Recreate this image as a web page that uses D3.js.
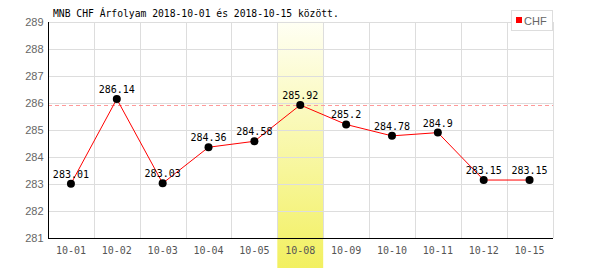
<!DOCTYPE html>
<html><head><meta charset="utf-8">
<script src="https://cdn.jsdelivr.net/npm/d3@7"></script>
<style>body{margin:0;background:#fff}svg{display:block}</style>
</head><body>
<script>
const categories = ["10-01","10-02","10-03","10-04","10-05","10-08","10-09","10-10","10-11","10-12","10-15"];
const values = [283.01,286.14,283.03,284.36,284.58,285.92,285.2,284.78,284.9,283.15,283.15];
const valueLabels = ["283.01","286.14","283.03","284.36","284.58","285.92","285.2","284.78","284.9","283.15","283.15"];
const yTicks = [281,282,283,284,285,286,287,288,289];
const highlightCategory = "10-08";
const referenceValue = 285.92;
const seriesName = "CHF";
const title = "MNB CHF Árfolyam 2018-10-01 és 2018-10-15 között.";

const W = 600, H = 270;
const m = {left: 48, right: 47.5, top: 21.5, bottom: 31.7};
const svg = d3.select("body").append("svg").attr("width", W).attr("height", H);
const x = d3.scaleBand().domain(categories).range([m.left, W - m.right]);
const y = d3.scaleLinear().domain([281, 289]).range([H - m.bottom, m.top]);

const defs = svg.append("defs");
const grad = defs.append("linearGradient").attr("id","hl").attr("x1",0).attr("y1",0).attr("x2",0).attr("y2",1);
grad.append("stop").attr("offset","0%").attr("stop-color","#fffff4");
grad.append("stop").attr("offset","100%").attr("stop-color","#f2f060");

// highlight band
svg.append("rect")
  .attr("x", x(highlightCategory)).attr("width", x.bandwidth())
  .attr("y", y(289)).attr("height", H - 2 - y(289))
  .attr("fill", "url(#hl)");

// grid
const g = svg.append("g").attr("shape-rendering","crispEdges");
g.selectAll(".hg").data(yTicks).join("line")
  .attr("x1", m.left).attr("x2", W - m.right)
  .attr("y1", d => Math.round(y(d)) + 0.5).attr("y2", d => Math.round(y(d)) + 0.5)
  .attr("stroke", "#dddddd");
const vlines = categories.map(c => x(c) + x.bandwidth()).concat([x(categories[0])]);
g.selectAll(".vg").data(vlines).join("line")
  .attr("x1", d => Math.round(d) + 0.5).attr("x2", d => Math.round(d) + 0.5)
  .attr("y1", y(289)).attr("y2", y(281))
  .attr("stroke", "#dddddd");

// reference dashed line
svg.append("line")
  .attr("x1", m.left).attr("x2", W - m.right)
  .attr("y1", Math.round(y(referenceValue)) + 0.5).attr("y2", Math.round(y(referenceValue)) + 0.5)
  .attr("stroke", "#ff9999").attr("stroke-dasharray", "4,3").attr("shape-rendering","crispEdges");

// axes
const yAxis = svg.append("g").attr("transform", `translate(${m.left + 0.5},0)`)
  .call(d3.axisLeft(y).tickValues(yTicks).tickSize(0).tickPadding(5).tickFormat(d3.format("d")));
yAxis.select(".domain").remove();
yAxis.selectAll("text").attr("fill","#666").style("font-family","'Liberation Sans', Arial, sans-serif").style("font-size","11px");
svg.append("line").attr("x1", m.left + 0.5).attr("x2", m.left + 0.5).attr("y1", y(289)).attr("y2", y(281) + 1)
  .attr("stroke","#000").attr("shape-rendering","crispEdges");

const xAxis = svg.append("g").attr("transform", `translate(0,${Math.round(y(281)) + 0.5})`)
  .call(d3.axisBottom(x).tickSize(0).tickPadding(8));
xAxis.select(".domain").remove();
xAxis.selectAll("text").attr("fill","#555").style("font-family","'DejaVu Sans Mono', monospace").style("font-size","10px");
svg.append("line").attr("x1", m.left).attr("x2", W - m.right + 0.5)
  .attr("y1", Math.round(y(281)) + 0.5).attr("y2", Math.round(y(281)) + 0.5)
  .attr("stroke","#000").attr("shape-rendering","crispEdges");

// line
const pts = categories.map((c,i) => ({c, v: values[i], l: valueLabels[i]}));
svg.append("path").datum(pts)
  .attr("d", d3.line().x(d => x(d.c) + x.bandwidth()/2).y(d => y(d.v)))
  .attr("fill","none").attr("stroke","#ff0000").attr("stroke-width",1);

svg.selectAll(".pt").data(pts).join("circle")
  .attr("cx", d => x(d.c) + x.bandwidth()/2).attr("cy", d => y(d.v)).attr("r", 4)
  .attr("fill","#000");

svg.selectAll(".lbl").data(pts).join("text")
  .attr("x", d => x(d.c) + x.bandwidth()/2).attr("y", d => y(d.v) - 6)
  .attr("text-anchor","middle").attr("fill","#000")
  .style("font-family","'DejaVu Sans Mono', monospace").style("font-size","10px")
  .text(d => d.l);

// title
svg.append("text").attr("x", 53).attr("y", 17).attr("fill","#000")
  .style("font-family","'DejaVu Sans Mono', monospace").style("font-size","9.7px")
  .text(title);

// legend
const lg = svg.append("g");
lg.append("rect").attr("x", 511.5).attr("y", 10.5).attr("width", 41).attr("height", 20)
  .attr("fill","#fff").attr("stroke","#dddddd").attr("shape-rendering","crispEdges");
lg.append("rect").attr("x", 516).attr("y", 17).attr("width", 6).attr("height", 6).attr("fill","#ff0000");
lg.append("text").attr("x", 524).attr("y", 24.5).attr("fill","#666")
  .style("font-family","'Liberation Sans', Arial, sans-serif").style("font-size","11px").text(seriesName);
</script>
</body></html>
